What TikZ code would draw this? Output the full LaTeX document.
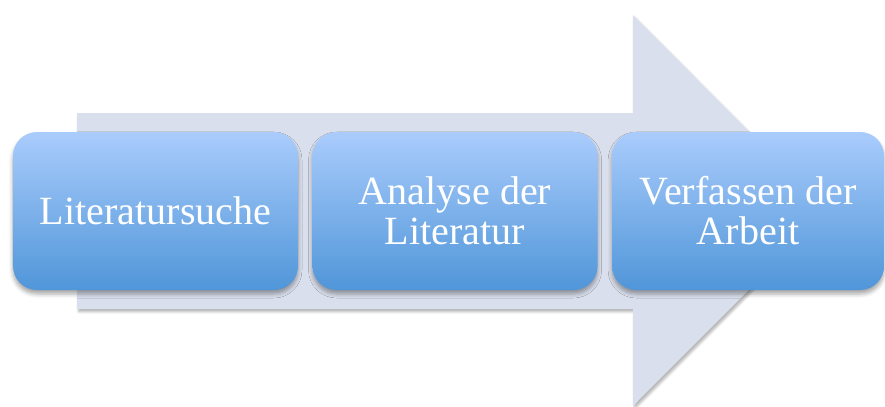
\documentclass[tikz,border=0pt]{standalone}
\usepackage{fontspec}
\setmainfont{Liberation Serif}
\usetikzlibrary{
	positioning,
	shadows.blur
}
\definecolor{ArrowGray}{RGB}{217,223,236}
\definecolor{BoxTop}{RGB}{170,204,252}
\definecolor{BoxBottom}{RGB}{80,150,217}
\tikzset{
	stepbox/.style={rounded corners=0.6cm, top color=BoxTop, bottom color=BoxBottom,
		minimum width=7.125cm, minimum height=3.95cm, inner sep=0pt,
		text=white, align=center, font=\fontsize{28.5}{28.5}\selectfont,
		blur shadow={shadow xshift=0pt, shadow yshift=-0.1cm, shadow blur radius=0.1cm, shadow opacity=35}},
	bigarrow/.style={fill=ArrowGray,
		blur shadow={shadow xshift=0.04cm, shadow yshift=-0.07cm, shadow blur radius=0.06cm, shadow opacity=30}}
}

\begin{document}
\begin{tikzpicture}
			\useasboundingbox (0,0) rectangle (22.125,10.15);
			% arrow behind the three steps
			\path[bigarrow] (1.925,2.425) -- (15.825,2.425) -- (15.825,0) -- (20.7,4.88)
				-- (15.825,9.775) -- (15.825,7.325) -- (1.925,7.325) -- cycle;
			\node[stepbox] (suche) at (3.8875,4.875) {Literatursuche};
			\node[stepbox, right=0.35cm of suche] (analyse) {Analyse der\\Literatur};
			\node[stepbox, right=0.35cm of analyse, minimum width=6.8cm] (verfassen) {Verfassen der\\Arbeit};
		\end{tikzpicture}
\end{document}
